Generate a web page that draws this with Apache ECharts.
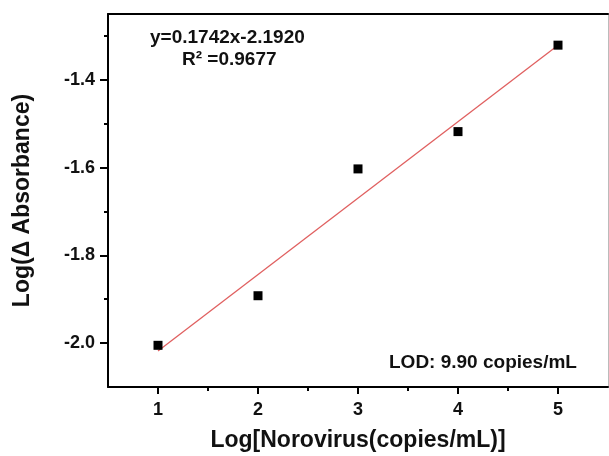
<!DOCTYPE html>
<html>
<head>
<meta charset="utf-8">
<script src="https://cdn.jsdelivr.net/npm/echarts@6/dist/echarts.min.js"></script>
<style>
html,body{margin:0;padding:0;background:#fff;}
#chart{width:609px;height:456px;}
</style>
</head>
<body>
<div id="chart"></div>
<script>
// Data
const xValues = [1, 2, 3, 4, 5];
const yValues = [-2.005, -1.892, -1.603, -1.518, -1.321];
// Linear fit line endpoints (y = 0.1742x - 2.1920)
const fitX = [1, 5];
const fitY = [-2.018, -1.321];
const xTicks = [1, 2, 3, 4, 5];
const xMinorTicks = [1.5, 2.5, 3.5, 4.5];
const yTicks = [-2.0, -1.8, -1.6, -1.4];
const yMinorTicks = [-1.9, -1.7, -1.5, -1.3];
const equationText = 'y=0.1742x-2.1920';
const r2Text = 'R\u00B2 =0.9677';
const lodText = 'LOD: 9.90 copies/mL';

const FONT = '"Liberation Sans", Arial, sans-serif';
const chart = echarts.init(document.getElementById('chart'), null, {renderer: 'canvas'});

const scatterData = xValues.map((x, i) => [x, yValues[i]]);
const fitData = fitX.map((x, i) => [x, fitY[i]]);

const baseX = {type: 'value', min: 0.5, max: 5.5, gridIndex: 0};
const baseY = {type: 'value', min: -2.1, max: -1.25, gridIndex: 0};

chart.setOption({
  animation: false,
  backgroundColor: '#fff',
  grid: {left: 108, top: 14, right: 1, bottom: 69, containLabel: false, outerBoundsMode: 'none'},
  xAxis: [
    Object.assign({}, baseX, {
      position: 'bottom',
      name: 'Log[Norovirus(copies/mL)]',
      nameLocation: 'middle',
      nameGap: 42,
      nameTextStyle: {fontFamily: FONT, fontWeight: 'bold', fontSize: 23, color: '#111'},
      axisLine: {show: true, onZero: false, lineStyle: {color: '#000', width: 2}},
      axisTick: {show: true, inside: false, length: 7, lineStyle: {color: '#000', width: 2}, customValues: xTicks},
      axisLabel: {show: true, customValues: xTicks, margin: 14, fontFamily: FONT, fontWeight: 'bold', fontSize: 18, color: '#111', formatter: v => String(v)},
      splitLine: {show: false}
    }),
    Object.assign({}, baseX, {
      position: 'bottom',
      axisLine: {show: false, onZero: false},
      axisTick: {show: true, inside: false, length: 4, lineStyle: {color: '#000', width: 2}, customValues: xMinorTicks},
      axisLabel: {show: false},
      splitLine: {show: false}
    }),
    Object.assign({}, baseX, {
      position: 'top',
      axisLine: {show: true, onZero: false, lineStyle: {color: '#000', width: 2}},
      axisTick: {show: false},
      axisLabel: {show: false},
      splitLine: {show: false}
    })
  ],
  yAxis: [
    Object.assign({}, baseY, {
      position: 'left',
      name: 'Log(\u0394 Absorbance)',
      nameLocation: 'middle',
      nameGap: 74,
      nameRotate: 90,
      nameTextStyle: {fontFamily: FONT, fontWeight: 'bold', fontSize: 23, color: '#111'},
      axisLine: {show: true, onZero: false, lineStyle: {color: '#000', width: 2}},
      axisTick: {show: true, inside: false, length: 8, lineStyle: {color: '#000', width: 2}, customValues: yTicks},
      axisLabel: {show: true, customValues: yTicks, margin: 13, fontFamily: FONT, fontWeight: 'bold', fontSize: 18, color: '#111', formatter: v => v.toFixed(1)},
      splitLine: {show: false}
    }),
    Object.assign({}, baseY, {
      position: 'left',
      axisLine: {show: false, onZero: false},
      axisTick: {show: true, inside: false, length: 4, lineStyle: {color: '#000', width: 2}, customValues: yMinorTicks},
      axisLabel: {show: false},
      splitLine: {show: false}
    }),
    Object.assign({}, baseY, {
      position: 'right',
      axisLine: {show: true, onZero: false, lineStyle: {color: '#bbb', width: 1}},
      axisTick: {show: false},
      axisLabel: {show: false},
      splitLine: {show: false}
    })
  ],
  series: [
    {
      type: 'line',
      xAxisIndex: 0, yAxisIndex: 0,
      data: fitData,
      showSymbol: false,
      symbol: 'none',
      lineStyle: {color: '#e06060', width: 1.3},
      z: 2
    },
    {
      type: 'scatter',
      xAxisIndex: 0, yAxisIndex: 0,
      data: scatterData,
      symbol: 'rect',
      symbolSize: 9,
      itemStyle: {color: '#000', opacity: 1},
      z: 3
    }
  ],
  graphic: [
    {type: 'text', left: 150, top: 28, style: {text: equationText, font: 'bold 19px ' + FONT, fill: '#111'}},
    {type: 'text', left: 182, top: 50, style: {text: r2Text, font: 'bold 19px ' + FONT, fill: '#111'}},
    {type: 'text', left: 389, top: 353, style: {text: lodText, font: 'bold 19px ' + FONT, fill: '#111'}}
  ]
});
</script>
</body>
</html>
